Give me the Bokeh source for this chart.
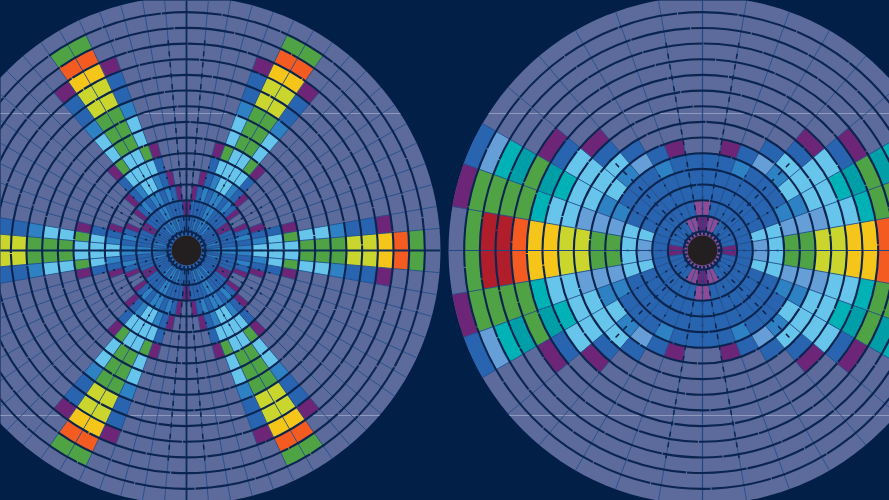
import math
from bokeh.plotting import figure
from bokeh.embed import file_html
from bokeh.resources import INLINE
from bokeh.models import ColumnDataSource, GlobalInlineStyleSheet

# Category levels used by the cells of the two polar heat maps
LEVEL_COLORS = ["#5D6A9C", "#6D2677", "#8E4C96", "#2864B0", "#2E82C4", "#669FD8", "#67C5EB",
                "#00B2B5", "#009FA8", "#50A345", "#CAD52E", "#F6C51A", "#F35B20", "#B01E2C"]
GRAY, PUR, LIL, BLU, MID, STL, LGT, TEA, DTE, GRN, YGR, YEL, ORG, RED = range(14)

# Left disc: one 30-degree wedge of 5-degree sectors, per ring from the outside in
L_R00 = [GRAY, GRAY, GRAY, GRAY, GRAY, GRAY]
L_R01 = [GRN, GRAY, GRAY, GRAY, GRAY, GRAY]
L_R02 = [ORG, GRAY, GRAY, GRAY, GRAY, GRAY]
L_R03 = [YEL, PUR, GRAY, GRAY, GRAY, GRAY]
L_R04 = [YGR, BLU, GRAY, GRAY, GRAY, GRAY]
L_R05 = [YGR, BLU, GRAY, GRAY, GRAY, GRAY]
L_R06 = [GRN, MID, GRAY, GRAY, GRAY, GRAY]
L_R07 = [GRN, LGT, GRAY, GRAY, GRAY, GRAY]
L_R08 = [GRN, LGT, GRAY, GRAY, GRAY, GRAY]
L_R09 = [LGT, GRN, PUR, GRAY, GRAY, GRAY]
L_R10 = [LGT, LGT, BLU, GRAY, GRAY, GRAY]
L_R11 = [LGT, MID, BLU, PUR, GRAY, GRAY]
L_R12 = [MID, BLU, MID, BLU, PUR, GRAY]
L_R13 = [MID, BLU, BLU, BLU, BLU, PUR]
L_R14 = [MID, BLU, MID, BLU, BLU, BLU]
L_R15 = [BLU, BLU, BLU, BLU, BLU, BLU]
LEFT_RINGS = [L_R00, L_R01, L_R02, L_R03, L_R04, L_R05, L_R06, L_R07,
              L_R08, L_R09, L_R10, L_R11, L_R12, L_R13, L_R14, L_R15]

# Right disc: one quadrant of 10-degree sectors, per ring from the outside in
R_R00 = [GRAY, PUR, BLU, GRAY, GRAY, GRAY, GRAY, GRAY, GRAY]
R_R01 = [GRN, GRN, STL, GRAY, GRAY, GRAY, GRAY, GRAY, GRAY]
R_R02 = [RED, GRN, TEA, GRAY, GRAY, GRAY, GRAY, GRAY, GRAY]
R_R03 = [RED, GRN, DTE, GRAY, GRAY, GRAY, GRAY, GRAY, GRAY]
R_R04 = [ORG, GRN, GRN, PUR, GRAY, GRAY, GRAY, GRAY, GRAY]
R_R05 = [YEL, TEA, DTE, BLU, GRAY, GRAY, GRAY, GRAY, GRAY]
R_R06 = [YEL, LGT, TEA, LGT, PUR, GRAY, GRAY, GRAY, GRAY]
R_R07 = [YGR, LGT, LGT, LGT, BLU, GRAY, GRAY, GRAY, GRAY]
R_R08 = [YGR, STL, LGT, LGT, LGT, BLU, GRAY, GRAY, GRAY]
R_R09 = [GRN, STL, MID, LGT, MID, STL, BLU, PUR, GRAY]
R_R10 = [GRN, STL, MID, BLU, BLU, BLU, MID, BLU, BLU]
R_R11 = [LGT, LGT, BLU, BLU, BLU, BLU, BLU, BLU, BLU]
R_R12 = [STL, LGT, BLU, BLU, BLU, BLU, BLU, BLU, BLU]
R_R13 = [BLU, BLU, BLU, BLU, BLU, BLU, BLU, BLU, LIL]
R_R14 = [PUR, BLU, BLU, BLU, BLU, BLU, LIL, LIL, PUR]
R_R15 = [LIL, LIL, LIL, LIL, LIL, LIL, LIL, LIL, LIL]
RIGHT_RINGS = [R_R00, R_R01, R_R02, R_R03, R_R04, R_R05, R_R06, R_R07,
               R_R08, R_R09, R_R10, R_R11, R_R12, R_R13, R_R14, R_R15]

# Spokes drawn with a dark dashed overlay, in degrees
LEFT_DASHED = [85, 95, 265, 275]
RIGHT_DASHED = [80, 100, 260, 280]
RIGHT_DIAGONALS = [45, 135, 225, 315]

W, H = 889, 500
BG = "#011F47"
NAVY = "#0A2650"
CY = 250
LEFT_CX, RIGHT_CX = 186, 702
OUTER_R, RING_W, CORE_R = 254.0, 15.67, 15.0
N_RINGS = 15
INNER_R = OUTER_R - RING_W * N_RINGS
FAINT_Y = [387, 85]

p = figure(width=W, height=H, x_range=(0, W), y_range=(0, H), output_backend="svg",
           toolbar_location=None, min_border=0, outline_line_color=None,
           background_fill_color=BG, border_fill_color=BG)
p.axis.visible = False
p.grid.visible = False
p.stylesheets = [GlobalInlineStyleSheet(css="html,body{margin:0;padding:0;background:%s;overflow:hidden}" % BG)]

def ring_bounds(k):
    if k >= N_RINGS:
        return CORE_R, INNER_R
    return OUTER_R - RING_W * (k + 1), OUTER_R - RING_W * k

def left_level(ring, sector):
    s = sector % 24               # 120-degree repeat in 5-degree sectors
    s = s if s < 12 else 23 - s   # mirrored around 60 degrees
    s = s if s < 6 else 11 - s    # mirrored around 30 degrees
    return LEFT_RINGS[ring][s]

def right_level(ring, sector):
    s = sector % 18
    s = s if s < 9 else 17 - s
    return RIGHT_RINGS[ring][s]

def cells(cx, rings, step, level):
    xs, ys, inn, out, a0, a1, col = [], [], [], [], [], [], []
    for k in range(len(rings)):
        r0, r1 = ring_bounds(k)
        for s in range(int(360 / step)):
            lv = level(k, s)
            if lv == GRAY:
                continue
            xs.append(cx); ys.append(CY); inn.append(r0); out.append(r1)
            a0.append(math.radians(s * step)); a1.append(math.radians((s + 1) * step))
            col.append(LEVEL_COLORS[lv])
    return ColumnDataSource(dict(x=xs, y=ys, i=inn, o=out, a=a0, b=a1, c=col))

def spokes(cx, angles, r0=INNER_R, r1=OUTER_R):
    x0, y0, x1, y1 = [], [], [], []
    for d in angles:
        t = math.radians(d)
        x0.append(cx + r0 * math.cos(t)); y0.append(CY + r0 * math.sin(t))
        x1.append(cx + r1 * math.cos(t)); y1.append(CY + r1 * math.sin(t))
    return ColumnDataSource(dict(x0=x0, y0=y0, x1=x1, y1=y1))

for cx, rings, step, level, dashed, diag, card_col, card_w, inner_step in [
        (LEFT_CX, LEFT_RINGS, 5, left_level, LEFT_DASHED, [], "#0C2C5C", 1.8, 15),
        (RIGHT_CX, RIGHT_RINGS, 10, right_level, RIGHT_DASHED, RIGHT_DIAGONALS, "#1F4A86", 1.2, 30)]:
    # grey disc
    p.circle(x=[cx], y=[CY], radius=OUTER_R, fill_color=LEVEL_COLORS[GRAY], line_color=None)
    # faint horizontal lines sit on the grey only
    for fy in FAINT_Y:
        half = math.sqrt(OUTER_R ** 2 - (fy - CY) ** 2)
        p.segment(x0=[cx - half], y0=[fy], x1=[cx + half], y1=[fy], line_color="#8F99BE", line_width=1)
    # cells
    p.annular_wedge(x="x", y="y", inner_radius="i", outer_radius="o", start_angle="a", end_angle="b",
                    fill_color="c", line_color="c", line_width=0.2, source=cells(cx, rings, step, level))
    # spokes
    p.segment(x0="x0", y0="y0", x1="x1", y1="y1", source=spokes(cx, range(0, 360, step)),
              line_color="#24508C", line_width=0.9)
    p.segment(x0="x0", y0="y0", x1="x1", y1="y1", source=spokes(cx, dashed, INNER_R, 215),
              line_color=NAVY, line_width=1.5, line_dash="5 6")
    p.segment(x0="x0", y0="y0", x1="x1", y1="y1", source=spokes(cx, diag, INNER_R, 130),
              line_color=NAVY, line_width=1.5, line_dash="5 6")
    p.segment(x0="x0", y0="y0", x1="x1", y1="y1", source=spokes(cx, range(0, 360, inner_step), INNER_R, 100),
              line_color=NAVY, line_width=1.6, line_dash="2 9")
    p.segment(x0="x0", y0="y0", x1="x1", y1="y1", source=spokes(cx, range(0, 360, 90)),
              line_color=card_col, line_width=card_w)
    # ring lines
    radii = [OUTER_R - RING_W * k for k in range(1, N_RINGS + 1)]
    p.circle(x=[cx] * len(radii), y=[CY] * len(radii), radius=radii, fill_color=None,
             line_color=NAVY, line_width=2.1, line_dash="60 1")
    # dotted rim round the core
    p.circle(x=[cx], y=[CY], radius=(CORE_R + INNER_R) / 2, fill_color=None,
             line_color=NAVY, line_width=3, line_dash="2 2")
    # core
    p.circle(x=[cx], y=[CY], radius=CORE_R, fill_color="#231F20", line_color=None)

open("out.html", "w").write(file_html(p, INLINE))
